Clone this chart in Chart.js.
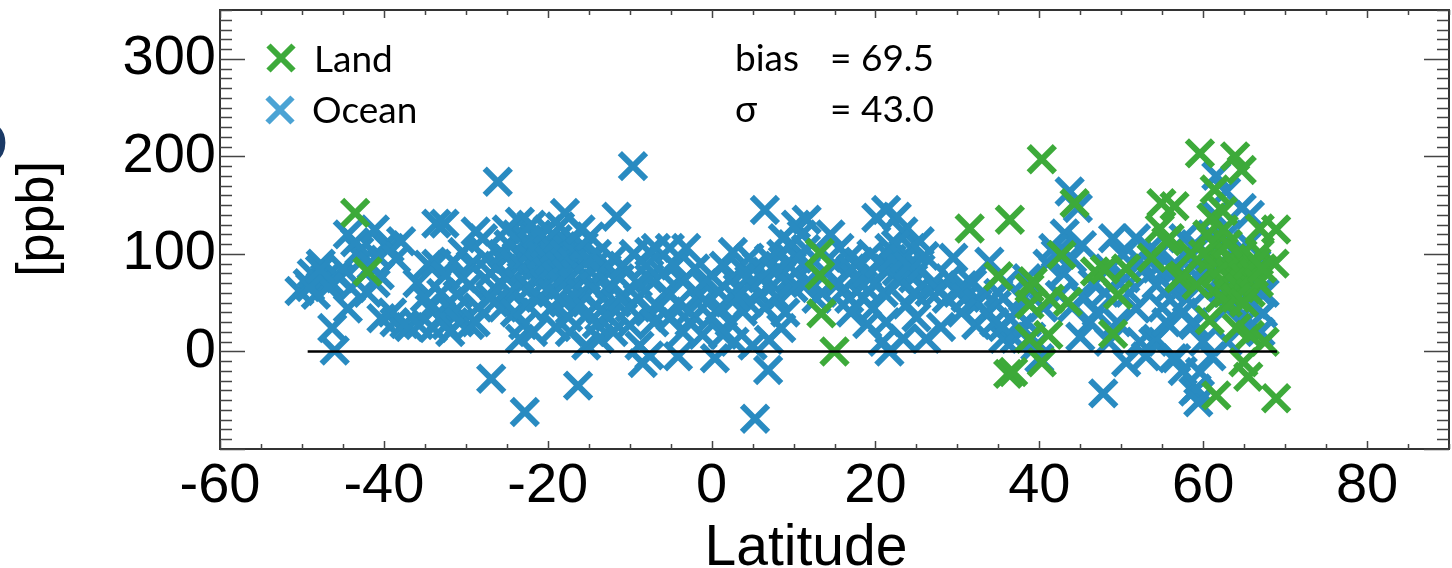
<!DOCTYPE html>
<html>
<head>
<meta charset="utf-8">
<script src="https://cdn.jsdelivr.net/npm/chart.js@4.4.0/dist/chart.umd.min.js"></script>
<style>
  html, body { margin: 0; padding: 0; background: #fff; }
  #wrap { width: 1452px; height: 568px; }
</style>
</head>
<body>
<div id="wrap"><canvas id="c" width="1452" height="568"></canvas></div>
<script>
// [latitude, ppb]
const oceanPoints = [
  [-50.3,62],[-49.3,70],[-48.3,58],[-47.7,90],[-48.8,80],[-47.2,75],[-46.6,72],[-46.0,1],[-46.3,24],[-45.4,75],
  [-44.4,120],[-44.0,65],[-44.4,44],[-45.0,85],[-46.8,66],[-49.0,66],[-47.8,84],[-43.0,103],[-42.6,94],[-43.5,112],
  [-41.1,125],[-40.5,78],[-39.9,109],[-39.3,106],[-37.9,113],[-40.3,34],[-38.7,30],[-36.9,25],[-41.5,88],[-40.8,98],
  [-38.5,95],[-42.0,60],[-41.0,70],[-39.0,40],[-37.5,28],
  [-33.6,131],[-32.6,131],[-35.9,70],[-34.6,89],[-33.6,90],[-34.4,44],[-35.7,27],[-34.0,24],[-32.0,51],[-32.4,27],
  [-30.4,102],[-29.4,89],[-28.8,123],[-29.5,68],[-29.5,27],[-31.0,58],[-30.4,75],[-33.0,60],[-31.5,40],[-33.0,35],
  [-30.8,30],[-31.5,92],[-35.0,55],[-32.5,78],[-28.5,45],[-28.8,30],[-31.9,20],
  [-26.1,174],[-9.6,190],[-27.9,116],[-23.4,133],[-17.9,142],[-11.6,138],[-26.9,-28],[-22.8,-62],[-16.3,-35],[-8.4,-12],
  [-23.4,13],[-23.0,27],[-17.3,20],[-15.3,6],[-13.7,13],[-8.8,6],[-7.6,102],[-7.6,75],[-7.6,41],[-10.8,58],
  [-10.0,27],[-21.8,20],
  [-27.5,95],[-27,80],[-26.5,65],[-26,88],[-25.5,100],[-25,75],[-24.8,110],[-24.5,60],[-24,90],[-23.8,120],
  [-23.5,70],[-23.2,100],[-22.8,85],[-22.5,115],[-22.2,65],[-22,95],[-21.8,105],[-21.5,75],[-21.3,120],[-21,88],
  [-20.8,98],[-20.5,70],[-20.3,110],[-20,82],[-19.8,93],[-19.5,60],[-19.2,105],[-19,78],[-18.8,115],[-18.5,88],
  [-18.2,68],[-18,100],[-17.7,80],[-17.4,110],[-17,92],[-16.8,70],[-16.5,100],[-16.2,84],[-15.9,60],[-15.6,108],
  [-15.3,76],[-15,95],[-14.6,65],[-14.3,88],[-14,100],[-13.6,72],[-13.2,55],[-12.8,85],[-12.4,68],[-12,95],
  [-11.6,50],[-11.2,75],[-10.8,88],[-26.5,50],[-25.5,45],[-24,40],[-22.5,48],[-21,55],[-19.5,45],[-18,50],
  [-16.5,45],[-15,40],[-13.5,42],[-12.5,35],[-20,125],[-22,130],[-18.5,128],[-16,125],[-14.8,118],[-25,125],
  [-27,55],[-9.5,100],[-9,70],[-10,45],[-19,25],[-17.5,35],[-14,28],[-12,20],
  [6.5,145],[5.3,-69],[6.9,-19],[-4.1,-5],[0.4,-7],[5.0,6],[8.5,24],[2.2,30],[-2.7,30],[-7.6,-4],
  [10.3,130],[11.6,135],[8.7,116],[-5.1,106],[-3.1,106],[-6.8,106],[2.6,102],[4.6,96],[-5.5,61],[-1.5,58],
  [-2.7,41],[-1.1,17],[1.4,17],[3.8,41],[5.9,58],[7.5,68],[9.5,75],[12.8,54],
  [-6,80],[-4.5,88],[-3.5,72],[-2,85],[-1,70],[0,78],[0.8,62],[1.5,88],[2.5,75],[3.2,65],
  [4,82],[4.8,70],[5.5,88],[6.2,75],[7,95],[7.8,82],[8.5,100],[9.2,90],[9.8,110],[10.5,95],
  [11,120],[11.5,105],[12,88],[10,65],[8,55],[6.5,45],[4.5,50],[3,55],[1,45],[-0.5,50],
  [-4,50],[-6.5,45],[-7,30],[-5,35],[-3.5,20],[0,35],[2.8,10],[7,12],[9,40],[11.5,70],[-8,88],[-9,55],
  [21.3,145],[22.6,138],[20.1,137],[23.4,123],[25.4,113],[24.4,106],[21.7,106],[15.6,106],[16.8,96],[29.5,96],
  [33.9,92],[22.6,82],[24.6,75],[18.5,68],[16.8,54],[19.7,44],[26.6,61],[28.7,54],[30.7,68],[33.1,61],
  [23.8,48],[21.7,0],[20.9,10],[23.4,13],[26.2,13],[21.3,30],[32.3,27],[35.6,13],[34.8,48],[36.4,34],[37.0,13],
  [14,80],[15,90],[15.5,70],[16,62],[17,85],[17.5,75],[18,92],[18.5,55],[19,80],[19.5,100],
  [20,70],[20.5,90],[21,60],[21.5,85],[22,95],[22.5,110],[23,72],[23.5,95],[24,88],[24.8,60],
  [25.5,85],[26,98],[27,70],[27.8,62],[29,75],[30,60],[31,55],[31.8,70],[32.5,50],[33.5,40],
  [34.5,30],[35.5,25],[14.5,120],[13.5,60],[25,35],[28,25],[30.5,40],[19,28],[17,40],
  [43.7,164],[44.7,147],[43.1,121],[41.7,106],[45.2,109],[42.5,58],[40.0,-7],[37.6,24],[37.2,41],[47.8,-43],
  [46.2,30],[49.0,116],[50.6,-11],[52.3,10],[53.9,10],[56.3,-7],[51.8,44],[50.2,99],[51.8,116],[54.3,68],
  [58.8,30],[58.8,-41],[58.0,54],[61.6,180],[62.8,164],[64.7,147],[65.7,140],[66.9,61],[67.3,39],[59.2,-38],
  [59.4,-52],[59.6,-21],[56.7,-7],[58.8,27],[54.3,13],[57.6,116],[54.3,85],[55.9,65],[60.0,85],[62.8,44],[66.1,48],
  [38,55],[38.5,30],[39,15],[39.5,5],[41,90],[42,100],[43,80],[44,95],[45.5,55],[46.5,70],
  [47,40],[48,60],[48.5,85],[49.5,30],[50.5,75],[51,60],[52,95],[52.8,85],[53.5,105],[54.5,100],
  [55,45],[55.5,30],[56.5,90],[57,70],[57.5,40],[58.2,95],[59,110],[59.5,75],[60.2,60],[60.5,100],
  [61,120],[61.5,140],[62,90],[62.5,70],[63,120],[63.5,50],[64,100],[64.5,80],[65,30],[65.5,110],
  [66,70],[66.5,90],[67,20],[67.5,60],[63,10],[61,-5],[60,10],[57.5,-20],[53,-5],[44,45],
  [45,15],[48.5,10],[36,70],[35,60],[38.5,75],[40.5,45]
];

const landPoints = [
  [-43.5,142],[-42.0,82],[13.2,101],[13.2,78],[13.4,39],[15.0,0],[31.5,126],[36.4,135],[35.0,77],[36.2,-23],
  [40.3,197],[44.3,152],[42.7,99],[39.2,72],[38.8,48],[43.5,51],[41.1,17],[40.3,-11],[36.8,-21],[46.8,82],
  [50.6,85],[49.6,58],[49.0,18],[54.9,152],[56.5,149],[53.7,96],[55.9,116],[57.1,75],[59.6,203],[63.9,200],
  [64.7,186],[61.4,166],[61.0,137],[62.4,144],[66.9,126],[68.9,125],[54.7,126],[68.7,90],[66.9,101],[60.8,32],
  [64.1,24],[65.7,17],[67.5,10],[64.9,-11],[65.5,-26],[61.6,-45],[68.9,-48],[55.5,113],[57.5,78],[59.2,68],
  [48.0,84],[41.3,54],[38.8,13],[38.8,65],
  [61,95],[61.5,80],[62,105],[62.3,70],[62.6,90],[63,60],[63.2,80],[63.5,95],[63.8,70],[64.2,85],
  [64.5,65],[64.8,100],[65.2,75],[65.5,88],[65.8,60],[66.2,80],[66.5,92],[66.8,70],[67.2,85],[62,55],
  [63,50],[64,55],[65,50],[61.5,110],[63,110],[60.5,120],[60,100],[58.5,100],[62.5,125]
];

const zeroLine = [[-49.3, 0], [69, 0]];

const xTicks = [-60, -40, -20, 0, 20, 40, 60, 80];
const yTicks = [0, 100, 200, 300];
const xMinorStep = 5, yMinorStep = 10;

const stats = [['bias', '= 69.5'], ['\u03c3', '= 43.0']];

const GREEN = '#3daa3a';
const BLUE = '#298bc1';
const BLUE_LEGEND = '#4ba3d4';

function toXY(list) {
  return list.map(p => ({x: p[0], y: p[1]}));
}

function drawX(ctx, x, y, r, color) {
  ctx.save();
  ctx.strokeStyle = color;
  ctx.lineWidth = 6;
  ctx.beginPath();
  ctx.moveTo(x - r, y - r); ctx.lineTo(x + r, y + r);
  ctx.moveTo(x + r, y - r); ctx.lineTo(x - r, y + r);
  ctx.stroke();
  ctx.restore();
}

const decor = {
  id: 'decor',
  afterDraw(chart) {
    const ctx = chart.ctx;
    const a = chart.chartArea;
    const xs = chart.scales.x, ys = chart.scales.y;
    ctx.save();
    // frame
    ctx.strokeStyle = '#333';
    ctx.lineWidth = 2;
    ctx.strokeRect(a.left, a.top, a.right - a.left, a.bottom - a.top);
    // inward ticks, all four sides
    ctx.lineWidth = 1.5;
    ctx.strokeStyle = '#444';
    ctx.beginPath();
    for (let v = xs.min; v <= xs.max; v += xMinorStep) {
      const px = Math.round(xs.getPixelForValue(v)) + 0.5;
      const len = v % 20 === 0 ? 8 : 5;
      ctx.moveTo(px, a.bottom); ctx.lineTo(px, a.bottom - len);
      ctx.moveTo(px, a.top); ctx.lineTo(px, a.top + len);
    }
    for (let v = ys.min; v <= ys.max; v += yMinorStep) {
      const py = Math.round(ys.getPixelForValue(v)) + 0.5;
      const len = v % 100 === 0 ? 25 : 12;
      ctx.moveTo(a.left, py); ctx.lineTo(a.left + len, py);
      ctx.moveTo(a.right, py); ctx.lineTo(a.right - len, py);
    }
    ctx.stroke();

    // axis titles
    ctx.fillStyle = '#000';
    ctx.font = '57px "Liberation Sans", Arial, sans-serif';
    ctx.textAlign = 'center';
    ctx.textBaseline = 'alphabetic';
    ctx.fillText('Latitude', 806, 565);

    ctx.save();
    ctx.translate(53, 219);
    ctx.rotate(-Math.PI / 2);
    ctx.font = '52px "Liberation Sans", Arial, sans-serif';
    ctx.textBaseline = 'alphabetic';
    ctx.fillText('[ppb]', 0, 0);
    ctx.restore();

    // cut-off panel letter at the left edge
    ctx.fillStyle = '#1b3a66';
    ctx.font = 'bold 62px "Liberation Sans", Arial, sans-serif';
    ctx.textAlign = 'right';
    ctx.textBaseline = 'middle';
    ctx.fillText('O', 8, 147);

    // legend
    drawX(ctx, 281, 58, 12.5, GREEN);
    drawX(ctx, 280, 110, 12.5, BLUE_LEGEND);
    ctx.fillStyle = '#000';
    ctx.font = '37px Lato, "Open Sans", sans-serif';
    ctx.textAlign = 'left';
    ctx.textBaseline = 'alphabetic';
    ctx.fillText('Land', 314, 72);
    ctx.fillText('Ocean', 312, 123);

    // stats
    stats.forEach((s, i) => {
      const y = 71 + i * 51;
      ctx.fillText(s[0], 735, y);
      ctx.fillText(s[1], 830, y);
    });
    ctx.restore();
  }
};

const tickFont = {family: '"Liberation Sans", Arial, sans-serif', size: 56};

new Chart(document.getElementById('c'), {
  type: 'scatter',
  data: {
    datasets: [
      {
        label: 'zero',
        type: 'line',
        data: toXY(zeroLine),
        borderColor: '#000',
        borderWidth: 2.5,
        pointRadius: 0,
        order: 0
      },
      {
        label: 'Land',
        data: toXY(landPoints),
        pointStyle: 'crossRot',
        pointRadius: 18.5,
        borderColor: GREEN,
        backgroundColor: GREEN,
        borderWidth: 6,
        order: 1
      },
      {
        label: 'Ocean',
        data: toXY(oceanPoints),
        pointStyle: 'crossRot',
        pointRadius: 18.5,
        borderColor: BLUE,
        backgroundColor: BLUE,
        borderWidth: 6,
        order: 2
      }
    ]
  },
  options: {
    responsive: false,
    animation: false,
    events: [],
    layout: {autoPadding: false, padding: {top: 10, right: 3, left: 0, bottom: 0}},
    scales: {
      x: {
        type: 'linear',
        min: -60,
        max: 90,
        afterBuildTicks: s => { s.ticks = xTicks.map(v => ({value: v})); },
        afterFit: s => { s.height = 119; s.paddingLeft = 0; s.paddingRight = 0; },
        grid: {display: false, drawTicks: false},
        border: {display: false},
        ticks: {font: tickFont, color: '#000', padding: 4, maxRotation: 0, autoSkip: false}
      },
      y: {
        type: 'linear',
        min: -100,
        max: 350,
        afterBuildTicks: s => { s.ticks = yTicks.map(v => ({value: v})); },
        afterFit: s => { s.width = 220; s.paddingTop = 0; s.paddingBottom = 0; },
        grid: {display: false, drawTicks: false},
        border: {display: false},
        ticks: {font: tickFont, color: '#000', padding: 4, autoSkip: false}
      }
    },
    plugins: {
      legend: {display: false},
      tooltip: {enabled: false},
      title: {display: false}
    }
  },
  plugins: [decor]
});
</script>
</body>
</html>
